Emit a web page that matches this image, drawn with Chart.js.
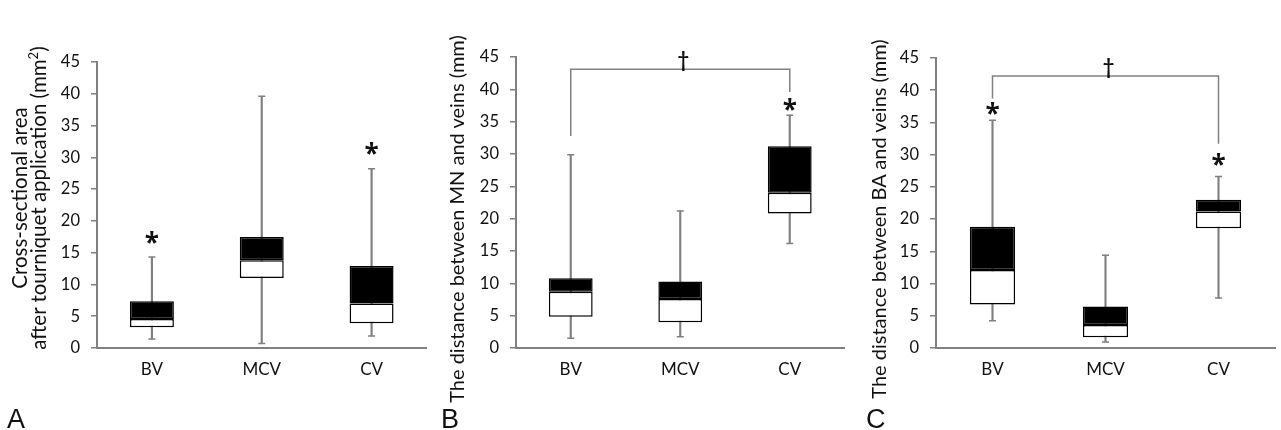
<!DOCTYPE html>
<html>
<head>
<meta charset="utf-8">
<script src="https://cdn.jsdelivr.net/npm/chart.js@4.4.1/dist/chart.umd.min.js"></script>
<style>
    body { margin: 0; background: #fff; }
    #wrap { position: relative; width: 1281px; height: 430px; overflow: hidden; font-family: Lato, sans-serif; color: #111; }
    .panel { position: absolute; top: 0; height: 430px; }
    .ytitle { position: absolute; width: 420px; text-align: center; font-size: 20px; line-height: 19px;
              transform: translate(-50%, -50%) rotate(-90deg); white-space: nowrap; }
    .letter { position: absolute; font-family: "Liberation Sans", Arial, sans-serif; font-size: 27px; }
</style>
</head>
<body>
<div id="wrap">
    <div class="panel" style="left:0;width:432px"><canvas id="chartA"></canvas></div>
    <div class="panel" style="left:432px;width:418px"><canvas id="chartB"></canvas></div>
    <div class="panel" style="left:850px;width:431px"><canvas id="chartC"></canvas></div>

    <div class="ytitle" style="left:29px;top:198px;font-size:20.5px">Cross-sectional area<br>after tourniquet application (mm<sup style="font-size:13px;line-height:0">2</sup>)</div>
    <div class="ytitle" style="left:456px;top:219px">The distance between MN and veins (mm)</div>
    <div class="ytitle" style="left:878px;top:219px">The distance between BA and veins (mm)</div>

    <div class="letter" style="left:7px;top:404px">A</div>
    <div class="letter" style="left:441px;top:404px">B</div>
    <div class="letter" style="left:866px;top:404px">C</div>
</div>

<script>
const categories = ['BV', 'MCV', 'CV'];
const yTicks = [0, 5, 10, 15, 20, 25, 30, 35, 40, 45];

// Panel A: cross-sectional area (mm2)
const minA = [1.4, 0.7, 1.9];
const q1A = [3.25, 11.0, 3.9];
const medA = [4.56, 13.8, 7.0];
const q3A = [7.34, 17.46, 12.9];
const maxA = [14.3, 39.6, 28.2];

// Panel B: distance between MN and veins (mm)
const minB = [1.5, 1.75, 16.15];
const q1B = [4.84, 4.0, 20.8];
const medB = [8.7, 7.56, 24.0];
const q3B = [10.8, 10.3, 31.2];
const maxB = [29.9, 21.2, 36.0];

// Panel C: distance between BA and veins (mm)
const minC = [4.23, 0.93, 7.74];
const q1C = [6.76, 1.65, 18.6];
const medC = [12.1, 3.56, 21.2];
const q3C = [18.8, 6.45, 23.0];
const maxC = [35.35, 14.4, 26.6];

// significance marks: [category index, y value]
const starsA = [[0, 17.0], [2, 31.1]];
const starsB = [[2, 37.4]];
const starsC = [[0, 36.9], [2, 29.0]];
// brackets: [from cat, to cat, top y, left foot y, right foot y, dagger y]
const bracketB = [0, 2, 43.1, 32.8, 39.6, 44.4];
const bracketC = [0, 2, 42.2, 38.7, 31.7, 43.5];

const GREY = '#808080';
const TEXT = '#111';

const marksPlugin = {
    id: 'marks',
    afterDatasetsDraw(chart, args, opts) {
        const ctx = chart.ctx;
        const x = chart.scales.x, y = chart.scales.y;
        ctx.save();
        if (opts.bracket) {
            const b = opts.bracket;
            const x1 = x.getPixelForValue(b[0]), x2 = x.getPixelForValue(b[1]);
            ctx.strokeStyle = GREY;
            ctx.lineWidth = 1.5;
            ctx.beginPath();
            ctx.moveTo(x1, y.getPixelForValue(b[3]));
            ctx.lineTo(x1, y.getPixelForValue(b[2]));
            ctx.lineTo(x2, y.getPixelForValue(b[2]));
            ctx.lineTo(x2, y.getPixelForValue(b[4]));
            ctx.stroke();
            ctx.fillStyle = TEXT;
            ctx.font = 'bold 20px Lato';
            ctx.textAlign = 'center';
            ctx.textBaseline = 'middle';
            ctx.fillText('\u2020', (x1 + x2) / 2 + 3, y.getPixelForValue(b[5]));
        }
        ctx.fillStyle = '#111';
        ctx.font = 'bold 26px "Open Sans"';
        ctx.textAlign = 'center';
        ctx.textBaseline = 'middle';
        (opts.stars || []).forEach(s => {
            ctx.fillText('*', x.getPixelForValue(s[0]), y.getPixelForValue(s[1]) + 5);
        });
        ctx.restore();
    }
};

function makeBoxChart(id, mins, q1s, meds, q3s, maxs, layout, stars, bracket) {
    const ctx = document.getElementById(id).getContext('2d');
    return new Chart(ctx, {
        type: 'bar',
        data: {
            labels: categories,
            datasets: [
                {
                    label: 'upper',
                    data: meds.map((m, i) => [m, q3s[i]]),
                    backgroundColor: '#000',
                    borderColor: '#000',
                    borderWidth: 1.5,
                    borderSkipped: false,
                    grouped: false,
                    barPercentage: 0.4,
                    categoryPercentage: 1,
                    order: 0
                },
                {
                    label: 'lower',
                    data: q1s.map((q, i) => [q, meds[i]]),
                    backgroundColor: '#fff',
                    borderColor: '#000',
                    borderWidth: 1.5,
                    borderSkipped: false,
                    grouped: false,
                    barPercentage: 0.4,
                    categoryPercentage: 1,
                    order: 1
                },
                {
                    type: 'line',
                    label: 'maxCap',
                    data: maxs,
                    showLine: false,
                    pointStyle: 'line',
                    pointRadius: 3.5,
                    borderColor: GREY,
                    borderWidth: 1.5,
                    order: 2
                },
                {
                    type: 'line',
                    label: 'minCap',
                    data: mins,
                    showLine: false,
                    pointStyle: 'line',
                    pointRadius: 3.5,
                    borderColor: GREY,
                    borderWidth: 1.5,
                    order: 2
                },
                {
                    label: 'whisker',
                    data: mins.map((m, i) => [m, maxs[i]]),
                    backgroundColor: GREY,
                    barThickness: 1.5,
                    grouped: false,
                    order: 3
                }
            ]
        },
        options: {
            responsive: true,
            maintainAspectRatio: false,
            animation: false,
            layout: { padding: { top: layout.top, right: layout.right, left: 0, bottom: 0 } },
            plugins: {
                legend: { display: false },
                tooltip: { enabled: false },
                marks: { stars: stars, bracket: bracket }
            },
            scales: {
                x: {
                    offset: true,
                    grid: { display: false },
                    border: { color: GREY, width: 2 },
                    ticks: { color: TEXT, font: { family: 'Lato', size: 17 }, padding: 3 },
                    afterFit(scale) { scale.height = 430 - 348; }
                },
                y: {
                    min: 0,
                    max: 45,
                    afterBuildTicks(scale) { scale.ticks = yTicks.map(v => ({ value: v })); },
                    grid: { drawOnChartArea: false, drawTicks: true, tickLength: 6, color: GREY, lineWidth: 1.5 },
                    border: { color: GREY, width: 2 },
                    ticks: { color: TEXT, font: { family: 'Lato', size: 16.5 }, padding: 11 },
                    afterFit(scale) { scale.width = layout.left; }
                }
            }
        },
        plugins: [marksPlugin]
    });
}

makeBoxChart('chartA', minA, q1A, medA, q3A, maxA, { left: 97, top: 62, right: 4 }, starsA, null);
makeBoxChart('chartB', minB, q1B, medB, q3B, maxB, { left: 84, top: 57, right: 4 }, starsB, bracketB);
makeBoxChart('chartC', minC, q1C, medC, q3C, maxC, { left: 86, top: 58, right: 6 }, starsC, bracketC);
</script>
</body>
</html>
